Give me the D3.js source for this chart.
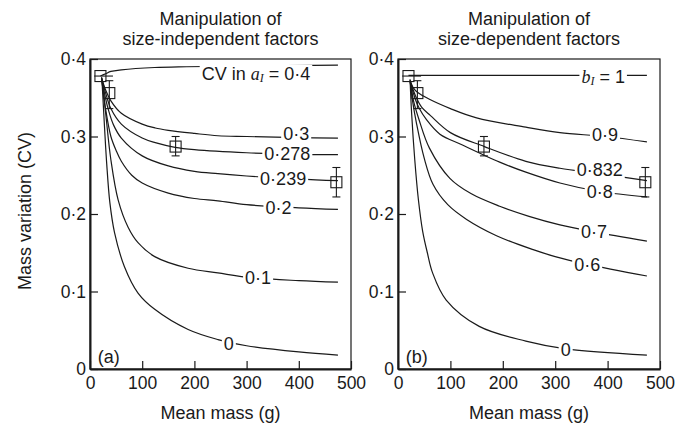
<!DOCTYPE html>
<html>
<head>
<meta charset="utf-8">
<script src="https://cdn.jsdelivr.net/npm/d3@7"></script>
<style>
	body{margin:0;background:#fff;}
	text{font-family:"Liberation Sans",Arial,sans-serif;fill:#1a1a1a;}
	.curve{fill:none;stroke:#1a1a1a;stroke-width:1.2;}
	.mark{fill:none;stroke:#1a1a1a;stroke-width:1.1;}
</style>
</head>
<body>
<svg id="chart" width="677" height="429"></svg>
<script>
/************************************ Data *******************************/
var massTicks = [0,100,200,300,400,500];
var cvTicks = [0,0.1,0.2,0.3,0.4];

// (a) size-independent factors, CV in a1
var indep_040 = [[20,0.378],[30,0.381],[40,0.384],[60,0.386],[124,0.389],[185,0.390],[300,0.391],[475,0.392]];
var indep_030 = [[22,0.376],[30,0.36],[40,0.346],[60,0.330],[100,0.316],[125,0.311],[150,0.308],[200,0.304],[245,0.301],[300,0.300],[400,0.2985],[475,0.298]];
var indep_278 = [[22,0.376],[30,0.356],[40,0.336],[60,0.316],[100,0.298],[125,0.292],[163,0.286],[200,0.283],[300,0.279],[400,0.277],[475,0.2765]];
var indep_239 = [[22,0.376],[28,0.355],[35,0.335],[45,0.315],[60,0.298],[100,0.275],[150,0.262],[200,0.255],[245,0.252],[300,0.249],[400,0.245],[475,0.243]];
var indep_020 = [[22,0.376],[26,0.355],[30,0.335],[40,0.300],[50,0.282],[60,0.268],[80,0.250],[100,0.240],[150,0.227],[200,0.220],[245,0.217],[300,0.212],[400,0.208],[475,0.206]];
var indep_010 = [[23,0.372],[30,0.33],[40,0.27],[54,0.218],[73,0.183],[92,0.163],[124,0.145],[188,0.130],[245,0.124],[306,0.118],[400,0.114],[475,0.112]];
var indep_000 = [[23,0.372],[28,0.31],[32,0.265],[38,0.215],[47,0.176],[66,0.132],[92,0.098],[124,0.077],[188,0.051],[245,0.038],[300,0.030],[400,0.022],[475,0.018]];

// (b) size-dependent factors, b1
var dep_100 = [[20,0.379],[475,0.379]];
var dep_090 = [[23,0.372],[30,0.362],[37,0.357],[60,0.348],[100,0.336],[150,0.324],[244,0.312],[309,0.305],[395,0.300],[475,0.293]];
var dep_832 = [[23,0.372],[35,0.35],[45,0.338],[62,0.327],[100,0.305],[165,0.287],[244,0.268],[309,0.259],[385,0.252],[475,0.243]];
var dep_080 = [[23,0.372],[32,0.35],[40,0.337],[54,0.322],[80,0.303],[123,0.289],[194,0.267],[244,0.254],[309,0.240],[385,0.229],[475,0.222]];
var dep_070 = [[23,0.372],[30,0.345],[40,0.322],[60,0.285],[99,0.246],[140,0.226],[194,0.210],[250,0.197],[309,0.186],[374,0.177],[475,0.165]];
var dep_060 = [[23,0.372],[28,0.345],[35,0.318],[50,0.272],[67,0.238],[95,0.212],[131,0.193],[188,0.172],[258,0.154],[300,0.145],[361,0.135],[475,0.120]];
var dep_000 = [[23,0.374],[26,0.33],[32,0.27],[39,0.218],[47,0.178],[56,0.150],[66,0.124],[92,0.089],[155,0.055],[244,0.036],[320,0.026],[475,0.018]];

var indepSeries = [indep_040, indep_030, indep_278, indep_239, indep_020, indep_010, indep_000];
var depSeries = [dep_100, dep_090, dep_832, dep_080, dep_070, dep_060, dep_000];

// curve labels: text, mass, cv (label centre)
var indepLabels = [["0·3",395,0.303],["0·278",378,0.278],["0·239",370,0.2455],["0·2",361,0.208],["0·1",322,0.117],["0",266,0.0326]];
var depLabels = [["0·9",395,0.302],["0·832",385,0.257],["0·8",385,0.229],["0·7",374,0.177],["0·6",361,0.1346],["0",320,0.025]];

// observed means with error bars
var obsMass = [20,37,164,472];
var obsCV = [0.378,0.356,0.287,0.241];
var obsLo = [0.378,0.336,0.275,0.222];
var obsHi = [0.378,0.372,0.300,0.260];
var obsMassLo = [8,37,164,472];
var obsMassHi = [44,37,164,472];

/************************************ Helpers *******************************/
var svg = d3.select("#chart");
var yTop = 59, yBot = 369;

function fmtCV(d){
	return d === 0 ? "0" : d3.format(".1f")(d).replace(".","·");
}

function addLabel(g, x, y, anchor, build){
	var lg = g.append("g");
	var bg = lg.append("rect").attr("fill","#fff");
	var t = lg.append("text")
		.attr("x",x).attr("y",y)
		.attr("text-anchor",anchor)
		.attr("dominant-baseline","central")
		.attr("font-size",18);
	build(t);
	var bb = t.node().getBBox();
	bg.attr("x",bb.x-2).attr("y",bb.y+1).attr("width",bb.width+4).attr("height",bb.height-2);
	return t;
}

/************************************ Panel *******************************/
function drawPanel(x0, x1, series, labels, tag, title2, special){
	var x = d3.scaleLinear().domain([0,500]).range([x0,x1]);
	var y = d3.scaleLinear().domain([0,0.4]).range([yBot,yTop]);
	var g = svg.append("g");

	// frame
	g.append("rect").attr("x",x0).attr("y",yTop).attr("width",x1-x0).attr("height",yBot-yTop)
		.attr("fill","none").attr("stroke","#1a1a1a").attr("stroke-width",1.2);

	var line = d3.line().x(function(d){return x(d[0]);}).y(function(d){return y(d[1]);}).curve(d3.curveCatmullRom.alpha(0.5));
	g.selectAll("path.curve").data(series).enter().append("path")
		.attr("class","curve").attr("d",line);

	// curve labels
	labels.forEach(function(l){
		addLabel(g, x(l[1]), y(l[2]), "middle", function(t){ t.text(l[0]); });
	});
	special(g, x, y);

	// observations
	obsMass.forEach(function(m,i){
		var cx = x(m), cy = y(obsCV[i]);
		if (obsHi[i] > obsLo[i]) {
			g.append("line").attr("class","mark").attr("x1",cx).attr("x2",cx).attr("y1",y(obsLo[i])).attr("y2",y(obsHi[i]));
			[obsLo[i],obsHi[i]].forEach(function(v){
				g.append("line").attr("class","mark").attr("x1",cx-4).attr("x2",cx+4).attr("y1",y(v)).attr("y2",y(v));
			});
		}
		if (obsMassHi[i] > obsMassLo[i]) {
			g.append("line").attr("class","mark").attr("x1",x(obsMassLo[i])).attr("x2",x(obsMassHi[i])).attr("y1",cy).attr("y2",cy);
		}
		g.append("rect").attr("class","mark").attr("x",cx-5.5).attr("y",cy-5.5).attr("width",11).attr("height",11);
	});

	// axes
	var ax = g.append("g").attr("transform","translate(0,"+yBot+")")
		.call(d3.axisBottom(x).tickValues(massTicks).tickSize(-8).tickSizeOuter(0).tickPadding(8));
	var ay = g.append("g").attr("transform","translate("+x0+",0)")
		.call(d3.axisLeft(y).tickValues(cvTicks).tickSize(-8).tickSizeOuter(0).tickPadding(4).tickFormat(fmtCV));
	[ax,ay].forEach(function(a){
		a.attr("font-family",null).attr("font-size",17.5);
		a.select(".domain").attr("stroke","#1a1a1a").attr("stroke-width",2);
		a.selectAll(".tick line").attr("stroke","#1a1a1a").attr("stroke-width",1.2);
		a.selectAll(".tick text").attr("fill","#1a1a1a");
	});

	// panel tag
	g.append("text").attr("x",x(15)).attr("y",y(0.015)).attr("dominant-baseline","central")
		.attr("font-size",18).text(tag);

	// titles
	var cx = (x0+x1)/2;
	g.append("text").attr("x",cx).attr("y",25).attr("text-anchor","middle").attr("font-size",18).text("Manipulation of");
	g.append("text").attr("x",cx).attr("y",45).attr("text-anchor","middle").attr("font-size",18).text(title2);
	g.append("text").attr("x",cx).attr("y",419).attr("text-anchor","middle").attr("font-size",18).text("Mean mass (g)");
}

drawPanel(90, 351, indepSeries, indepLabels, "(a)", "size-independent factors", function(g, x, y){
	addLabel(g, x(214), y(0.381), "start", function(t){
		t.append("tspan").text("CV in ");
		t.append("tspan").attr("font-family","'Liberation Serif','Times New Roman',serif").attr("font-style","italic").text("a");
		t.append("tspan").attr("font-family","'Liberation Serif','Times New Roman',serif").attr("font-style","italic")
			.attr("font-size",12).attr("dy",4).text("I");
		t.append("tspan").attr("dy",-4).text(" = 0·4");
	});
});
drawPanel(398, 660, depSeries, depLabels, "(b)", "size-dependent factors", function(g, x, y){
	addLabel(g, x(350), y(0.377), "start", function(t){
		t.append("tspan").attr("font-family","'Liberation Serif','Times New Roman',serif").attr("font-style","italic").text("b");
		t.append("tspan").attr("font-family","'Liberation Serif','Times New Roman',serif").attr("font-style","italic")
			.attr("font-size",12).attr("dy",4).text("I");
		t.append("tspan").attr("dy",-4).text(" = 1");
	});
});

// y axis title
svg.append("text").attr("transform","translate(25,211) rotate(-90)")
	.attr("text-anchor","middle").attr("dominant-baseline","central")
	.attr("font-size",18).text("Mass variation (CV)");
</script>
</body>
</html>
